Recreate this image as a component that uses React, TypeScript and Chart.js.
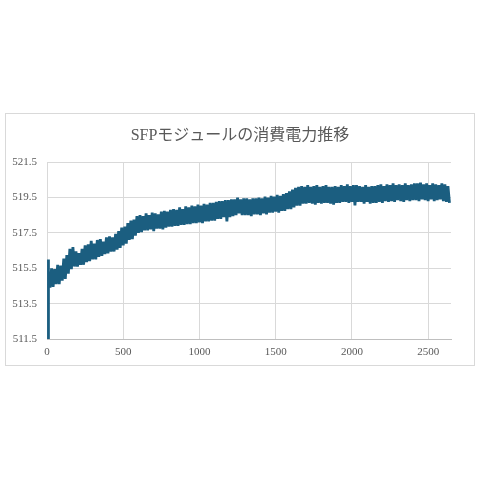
import React, { useEffect, useRef } from "react";
import { Chart, registerables } from "chart.js";

Chart.register(...registerables);

const TITLE = "SFPモジュールの消費電力推移";

// Start-up samples (sample index, watts)
const START_X = [8, 9];
const START_Y = [511.2, 516.0];

// Band readings: upper envelope (at 10, 30, 50, ...) and lower envelope (at 20, 40, 60, ...)
const SAMPLE_START = 10;
const SAMPLE_STEP = 20;

const UPPER = [
  515.3, 515.5, 515.45, 515.7, 515.65, 516.05, 516.25, 516.6, 516.7, 516.45,
  516.35, 516.6, 516.8, 516.85, 517.05, 516.9, 517.1, 517.15, 517.0, 517.25,
  517.3, 517.25, 517.45, 517.6, 517.8, 517.85, 518.05, 518.2, 518.25, 518.45,
  518.5, 518.45, 518.6, 518.5, 518.65, 518.6, 518.55, 518.7, 518.75, 518.7,
  518.8, 518.85, 518.8, 518.95, 518.85, 519.0, 518.95, 519.05, 519.0, 519.1,
  519.05, 519.15, 519.1, 519.2, 519.2, 519.25, 519.3, 519.3, 519.35, 519.35,
  519.4, 519.4, 519.5, 519.4, 519.45, 519.45, 519.4, 519.45, 519.45, 519.5,
  519.45, 519.55, 519.5, 519.6, 519.55, 519.65, 519.6, 519.7, 519.75, 519.85,
  519.95, 520.05, 520.1, 520.15, 520.1, 520.2, 520.1, 520.15, 520.2, 520.1,
  520.15, 520.2, 520.1, 520.1, 520.15, 520.1, 520.2, 520.15, 520.25, 520.15,
  520.2, 520.2, 520.15, 520.1, 520.2, 520.1, 520.15, 520.15, 520.2, 520.25,
  520.15, 520.25, 520.2, 520.3, 520.2, 520.25, 520.2, 520.3, 520.2, 520.25,
  520.3, 520.3, 520.35, 520.25, 520.3, 520.2, 520.3, 520.25, 520.2, 520.3,
  520.25, 520.15,
];

const LOWER = [
  514.4, 514.45, 514.6, 514.6, 514.8, 514.9, 515.2, 515.45, 515.6, 515.6,
  515.7, 515.7, 515.85, 515.9, 516.0, 516.0, 516.15, 516.2, 516.3, 516.35,
  516.45, 516.45, 516.55, 516.65, 516.8, 516.9, 517.1, 517.15, 517.35, 517.5,
  517.55, 517.65, 517.65, 517.7, 517.6, 517.75, 517.75, 517.7, 517.8, 517.85,
  517.85, 517.9, 517.9, 517.95, 517.95, 518.0, 518.0, 518.05, 518.05, 518.1,
  518.05, 518.15, 518.15, 518.2, 518.2, 518.3, 518.3, 518.4, 518.15, 518.4,
  518.45, 518.5, 518.6, 518.5, 518.5, 518.5, 518.45, 518.55, 518.55, 518.5,
  518.6, 518.55, 518.65, 518.65, 518.7, 518.65, 518.75, 518.75, 518.85, 518.85,
  518.95, 519.05, 519.05, 519.15, 519.15, 519.2, 519.15, 519.1, 519.2, 519.15,
  519.2, 519.2, 519.15, 519.1, 519.2, 519.2, 519.25, 519.25, 519.2, 519.25,
  519.05, 519.25, 519.25, 519.15, 519.25, 519.15, 519.2, 519.2, 519.25, 519.2,
  519.3, 519.25, 519.3, 519.25, 519.35, 519.3, 519.25, 519.35, 519.3, 519.35,
  519.35, 519.3, 519.4, 519.35, 519.3, 519.4, 519.3, 519.35, 519.4, 519.3,
  519.25, 519.2,
];

const X_TICKS = [0, 500, 1000, 1500, 2000, 2500];
const Y_TICKS = [511.5, 513.5, 515.5, 517.5, 519.5, 521.5];
const X_MIN = 0;
const X_MAX = 2650;
const Y_MIN = 511.5;
const Y_MAX = 521.5;

const LINE_COLOR = "#1b5e80";
const TEXT_COLOR = "#595959";
const GRID_COLOR = "#d9d9d9";
const FONT = "'Liberation Serif', 'Noto Sans CJK JP', serif";

function buildPoints() {
  const pts: { x: number; y: number }[] = [];
  START_X.forEach((x, i) => pts.push({ x, y: START_Y[i] }));
  UPPER.forEach((u, i) => {
    const x = SAMPLE_START + i * SAMPLE_STEP;
    pts.push({ x, y: u });
    pts.push({ x: x + SAMPLE_STEP / 2, y: LOWER[i] });
  });
  return pts;
}

export default function App() {
  const ref = useRef<HTMLCanvasElement | null>(null);

  useEffect(() => {
    if (!ref.current) return;
    const chart = new Chart(ref.current, {
      type: "line",
      data: {
        datasets: [
          {
            data: buildPoints(),
            borderColor: LINE_COLOR,
            backgroundColor: LINE_COLOR,
            borderWidth: 2.8,
            borderJoinStyle: "bevel",
            pointRadius: 0,
            tension: 0,
            fill: false,
          },
        ],
      },
      options: {
        animation: false,
        responsive: false,
        devicePixelRatio: 1,
        parsing: false,
        layout: { padding: { left: 0, right: 0, top: 0, bottom: 0 } },
        plugins: {
          legend: { display: false },
          tooltip: { enabled: false },
          title: {
            display: true,
            text: TITLE,
            color: TEXT_COLOR,
            font: { family: FONT, size: 16, weight: "normal" },
            padding: { top: 12, bottom: 17 },
          },
        },
        scales: {
          x: {
            type: "linear",
            min: X_MIN,
            max: X_MAX,
            afterBuildTicks: (scale: any) => {
              scale.ticks = X_TICKS.map((v) => ({ value: v }));
            },
            afterFit: (scale: any) => {
              scale.height = 26;
              scale.paddingRight = 23;
            },
            grid: { color: GRID_COLOR, drawTicks: false, lineWidth: 1 },
            border: { color: "#bfbfbf", width: 1 },
            ticks: {
              color: TEXT_COLOR,
              font: { family: FONT, size: 11 },
              padding: 7,
              maxRotation: 0,
              autoSkip: false,
              callback: (v: any) => String(v),
            },
          },
          y: {
            type: "linear",
            min: Y_MIN,
            max: Y_MAX,
            afterBuildTicks: (scale: any) => {
              scale.ticks = Y_TICKS.map((v) => ({ value: v }));
            },
            afterFit: (scale: any) => {
              scale.width = 41;
            },
            grid: { color: GRID_COLOR, drawTicks: false, lineWidth: 1 },
            border: { display: false },
            ticks: {
              color: TEXT_COLOR,
              font: { family: FONT, size: 11 },
              padding: 10,
              autoSkip: false,
              callback: (v: any) => Number(v).toFixed(1),
            },
          },
        },
      },
    });
    return () => chart.destroy();
  }, []);

  return (
    <div
      style={{
        position: "absolute",
        left: 0,
        top: 0,
        width: 480,
        height: 480,
        background: "#ffffff",
      }}
    >
      <div
        style={{
          position: "absolute",
          left: 5,
          top: 113,
          width: 470,
          height: 253,
          boxSizing: "border-box",
          border: "1px solid #d9d9d9",
          background: "#ffffff",
        }}
      >
        <canvas
          ref={ref}
          width={468}
          height={251}
          style={{ display: "block", width: 468, height: 251 }}
        />
      </div>
    </div>
  );
}
